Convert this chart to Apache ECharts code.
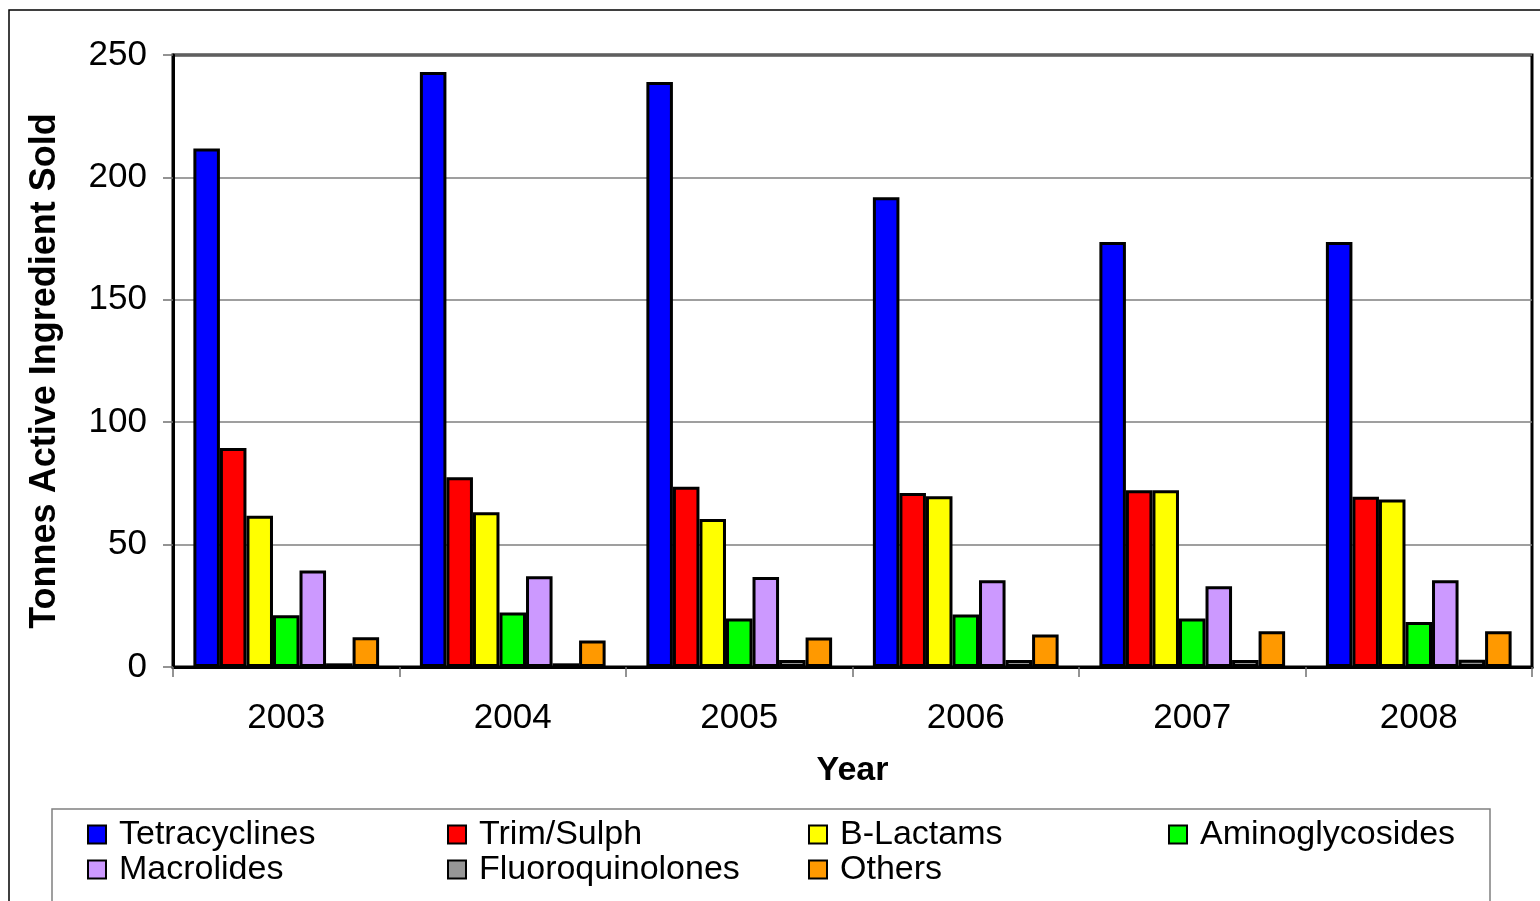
<!DOCTYPE html>
<html>
<head>
<meta charset="utf-8">
<script src="https://cdn.jsdelivr.net/npm/echarts@6/dist/echarts.min.js"></script>
<style>
html,body{margin:0;padding:0;background:#fff;}
#chart{width:1540px;height:901px;}
</style>
</head>
<body>
<div id="chart"></div>
<script>
var years = ['2003', '2004', '2005', '2006', '2007', '2008'];
var yTicks = { min: 0, max: 250, interval: 50 };
var seriesNames = ['Tetracyclines', 'Trim/Sulph', 'B-Lactams', 'Aminoglycosides', 'Macrolides', 'Fluoroquinolones', 'Others'];
var tetracyclines = [211.8, 243.1, 239.0, 191.9, 173.6, 173.6];
var trimSulph = [89.5, 77.5, 73.6, 71.1, 72.2, 69.5];
var bLactams = [61.8, 63.2, 60.5, 69.7, 72.2, 68.4];
var aminoglycosides = [21.1, 22.3, 19.8, 21.4, 19.8, 18.4];
var macrolides = [39.4, 37.1, 36.8, 35.4, 33.0, 35.4];
var fluoroquinolones = [1.5, 1.5, 2.9, 2.9, 2.9, 3.0];
var others = [12.2, 10.8, 12.1, 13.3, 14.6, 14.6];

var values = [tetracyclines, trimSulph, bLactams, aminoglycosides, macrolides, fluoroquinolones, others];
var colors = ['#0000FF', '#FF0000', '#FFFF00', '#00FF00', '#CC99FF', '#969696', '#FF9900'];

var FONT = '"Liberation Sans", Arial, sans-serif';

var series = seriesNames.map(function (name, i) {
  return {
    name: name,
    type: 'bar',
    data: values[i],
    barGap: '0%',
    barCategoryGap: '18%',
    itemStyle: { color: colors[i], borderColor: '#000', borderWidth: 3 },
    emphasis: { disabled: true },
    animation: false
  };
});

function mkLegend(names, left) {
  return {
    data: names,
    orient: 'vertical',
    left: left,
    top: 817,
    padding: 0,
    itemGap: 0,
    itemWidth: 18,
    itemHeight: 18,
    icon: 'rect',
    selectedMode: false,
    itemStyle: { borderColor: '#000', borderWidth: 2 },
    textStyle: { fontFamily: FONT, fontSize: 34, color: '#000', lineHeight: 35, padding: [0, 0, 0, 8] }
  };
}

var chart = echarts.init(document.getElementById('chart'), null, { renderer: 'canvas' });
chart.setOption({
  backgroundColor: '#fff',
  animation: false,
  textStyle: { fontFamily: FONT },
  grid: {
    left: 173, right: 8, top: 55, bottom: 234,
    show: true, borderColor: '#000', borderWidth: 3, backgroundColor: 'transparent'
  },
  legend: [
    mkLegend(['Tetracyclines', 'Macrolides'], 87),
    mkLegend(['Trim/Sulph', 'Fluoroquinolones'], 447),
    mkLegend(['B-Lactams', 'Others'], 808),
    mkLegend(['Aminoglycosides'], 1168)
  ],
  xAxis: {
    type: 'category',
    data: years,
    name: 'Year',
    nameLocation: 'middle',
    nameGap: 87,
    nameTextStyle: { fontFamily: FONT, fontSize: 34, fontWeight: 'bold', color: '#000' },
    axisLine: { lineStyle: { color: '#000', width: 3 } },
    axisTick: { show: true, length: 10, lineStyle: { color: '#707070', width: 1.5 } },
    axisLabel: { fontFamily: FONT, fontSize: 35, color: '#000', margin: 34 }
  },
  yAxis: {
    type: 'value',
    min: yTicks.min,
    max: yTicks.max,
    interval: yTicks.interval,
    name: 'Tonnes Active Ingredient Sold',
    nameLocation: 'middle',
    nameGap: 110,
    nameTextStyle: { fontFamily: FONT, fontSize: 36, fontWeight: 'bold', color: '#000', padding: [0, 20, 0, 0] },
    axisLine: { show: true, lineStyle: { color: '#000', width: 3 } },
    axisTick: { show: true, length: 10, lineStyle: { color: '#707070', width: 1.5 } },
    axisLabel: { fontFamily: FONT, fontSize: 35, color: '#000', margin: 26 },
    splitLine: { show: true, lineStyle: { color: '#7f7f7f', width: 1.5 } }
  },
  graphic: [
    { type: 'rect', silent: true, z: -1, shape: { x: 9, y: 10, width: 1700, height: 1000 },
      style: { fill: 'none', stroke: '#000', lineWidth: 1.5 } },
    { type: 'rect', silent: true, z: -1, shape: { x: 52, y: 809, width: 1438, height: 200 },
      style: { fill: 'none', stroke: '#808080', lineWidth: 1.5 } }
  ],
  series: series
});
</script>
</body>
</html>
